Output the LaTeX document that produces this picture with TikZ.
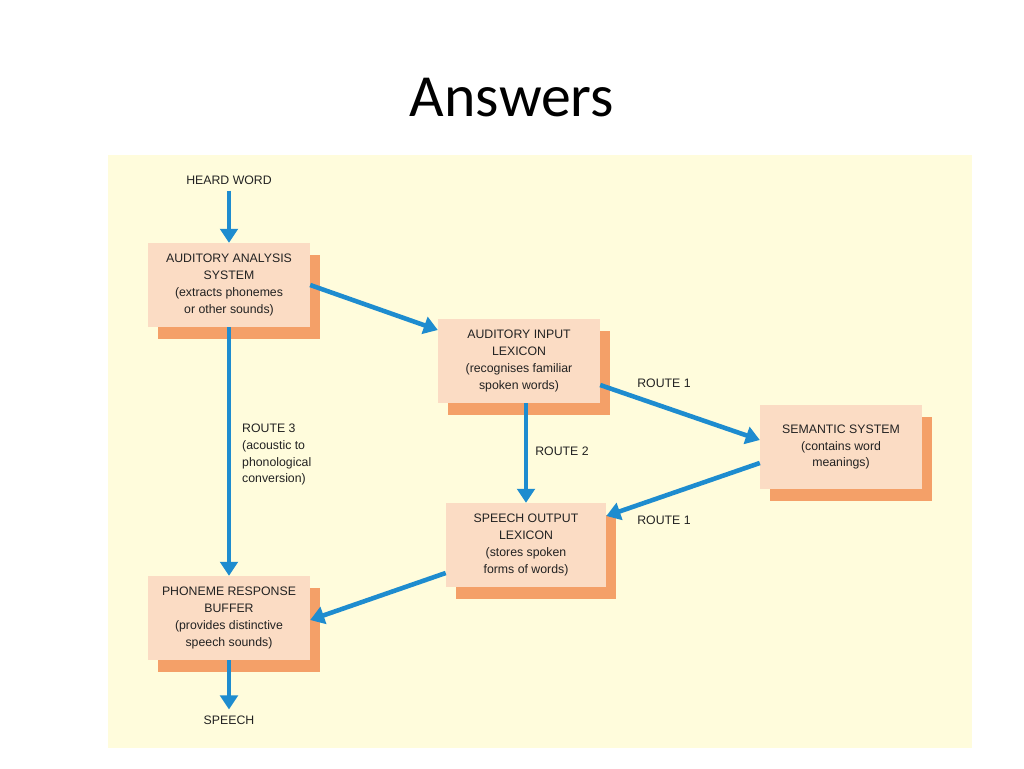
\documentclass[tikz,border=0pt]{standalone}
\usepackage{fontspec}
\setmainfont{Liberation Sans}
\newfontfamily\titlefont{Carlito}
\usetikzlibrary{arrows.meta,shadows}
\definecolor{panelbg}{HTML}{FFFCDC}
\definecolor{boxfill}{HTML}{FBDCC4}
\definecolor{boxshade}{HTML}{F4A068}
\definecolor{flowblue}{HTML}{1E8CCF}
\definecolor{bodytext}{HTML}{222222}

\tikzset{
    stagebox/.style={fill=boxfill, align=center, text=bodytext, font=\fontsize{7}{9.5}\selectfont,
        minimum width=92pt, minimum height=47.6pt, inner sep=1pt,
        copy shadow={shadow xshift=5.7pt, shadow yshift=-6.8pt, fill=boxshade, draw=none, opacity=1}},
    flowlabel/.style={text=bodytext, font=\fontsize{7}{9.5}\selectfont, align=left},
    flow/.style={flowblue, line width=2.6pt, -{Triangle[length=8pt,width=10pt]}}
}

\begin{document}
\begin{tikzpicture}[x=0.02cm, y=-0.02cm]
    \useasboundingbox[fill=white] (0,0) rectangle (1024,768);
    \fill[panelbg] (108,155) rectangle (972,748);

    % Title
    \node[font=\titlefont\fontsize{34}{36}\selectfont] (title) at (512,98) {Answers};

    % Stages
    \node[stagebox] (analysis) at (229,285) {AUDITORY ANALYSIS\\SYSTEM\\(extracts phonemes\\or other sounds)};
    \node[stagebox] (inlex) at (519,361) {AUDITORY INPUT\\LEXICON\\(recognises familiar\\spoken words)};
    \node[stagebox] (semantic) at (841,447) {SEMANTIC SYSTEM\\(contains word\\meanings)};
    \node[stagebox, minimum width=91pt] (outlex) at (526,545) {SPEECH OUTPUT\\LEXICON\\(stores spoken\\forms of words)};
    \node[stagebox] (buffer) at (229,618) {PHONEME RESPONSE\\BUFFER\\(provides distinctive\\speech sounds)};

    % Ends
    \node[flowlabel] (heard) at (229,180) {HEARD WORD};
    \node[flowlabel] (speech) at (229,720) {SPEECH};

    % Connectors
    \draw[flow] (heard) -- (analysis);
    \draw[flow] (analysis.east) -- (inlex.west |- 0,330);
    \draw[flow] (analysis) -- (buffer);
    \draw[flow] (inlex.east |- 0,385) -- (semantic.west |- 0,440);
    \draw[flow] (inlex.south -| 526,0) -- (outlex);
    \draw[flow] (semantic.west |- 0,463) -- (outlex.east |- 0,516);
    \draw[flow] (outlex.west |- 0,573) -- (buffer.east |- 0,620);
    \draw[flow] (buffer) -- (speech);

    % Route labels
    \node[flowlabel, anchor=north west] (route3) at (236,418) {ROUTE 3\\(acoustic to\\phonological\\conversion)};
    \node[flowlabel] (route2) at (562,451) {ROUTE 2};
    \node[flowlabel] (route1a) at (664,383) {ROUTE 1};
    \node[flowlabel] (route1b) at (664,520) {ROUTE 1};
\end{tikzpicture}
\end{document}
